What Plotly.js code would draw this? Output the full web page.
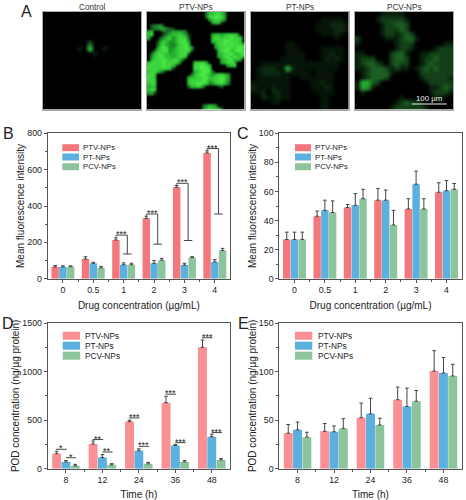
<!DOCTYPE html>
<html><head><meta charset="utf-8">
<script src="https://cdn.plot.ly/plotly-3.0.1.min.js"></script>
<style>html,body{margin:0;padding:0;background:#fff}#c{width:466px;height:500px}</style>
</head><body><div id="c"></div>
<script>
// ---------- data ----------
const seriesNames = ['PTV-NPs','PT-NPs','PCV-NPs'];
const concLabels = ['0','0.5','1','2','3','4'];
const timeLabels = ['8','12','24','36','48'];

const bPTV = [65,108,213,332,503,692], bPTVe = [7,13,12,12,10,12];
const bPT  = [65,85,77,85,75,92],      bPTe  = [6,5,10,15,10,13];
const bPCV = [66,60,77,102,117,155],   bPCVe = [5,8,8,10,4,12];
const bBracketGroups = [2,3,4,5];
const bBracketTop = [240,356,525,716];
const bBracketLow = [136,190,210,356];

const cPTV = [27,43,49,54,48,59.5],   cPTVe = [5,3.5,2,8,7,6.5];
const cPT  = [27,47,50.5,54,65,60.5], cPTe  = [5,7,8,7,9,7];
const cPCV = [27,45.5,55,37,48,61.5], cPCVe = [5,8,6.5,10,7,4];

const dPTV = [155,255,485,680,1250], dPTVe = [25,30,15,65,75];
const dPT  = [70,115,185,240,330],   dPTe  = [15,30,20,10,25];
const dPCV = [30,40,50,70,90],       dPCVe = [15,12,15,15,15];
const dLine1 = [200,300,523,767,1348];
const dLine2 = [113,172,230,268,372];
const dStars1 = ['*','**','***','***','***'];
const dStars2 = ['*','**','***','***','***'];

const ePTV = [36.5,38.5,52.5,71,100.5], ePTVe = [9,8,15,13,21];
const ePT  = [40,38,56.5,64,98.5],      ePTe  = [8,6,16,19,16];
const ePCV = [32.5,41.5,45,69.5,95.5],  ePCVe = [5,10,7,11,12];

const imgControl = ["","","","","","",
"00000000030000000000","00000001070010000000","00000000001000000000","","","","","","","","","","",""];
const imgPTV = [
"00000000000000000004778875",
"00000000000000000005889986",
"00000000000000000000678875",
"0000000000000000000006772",
"034552000",
"0244664320",
"6700133466654",
"78000246778752000000067767888600",
"60003578578883000000078878898870",
"00026875578986000000077889988870",
"00037865468897000000006889898887",
"00058985578898600000005788988998",
"00378895678889300000000789978998",
"03788876678893000000000678897789",
"05789877678870000000000678979786",
"06888987887400000000000067896850",
"78888988885000078886000067887000",
"88888988720000088998700000678000",
"88888888200000088999800000000000",
"78875300000000067899840000000000",
"88800000000000478998757887500000",
"88700000000006778899778898600000",
"88800000000007888898678898500000",
"78800000000007889988457887400000",
"67700000000003778740000130000000",
"7880000",
"562000",
"","","",
"000000000000000000357650",
"0000000000000000005787763"];
const imgPT = ["","00000000000000111110","00000000000001112221","00000000000001111221","00000000000000111210","00000000000000000100",
"00000001100000000000","00000001110000111110","00000001111000112110","00000011111000121210","00111111111111111100","01222119211111111100","01222211111101111000",
"01111111001111111000","11111111000011211000","21112111000011121000","11202211000001111000","00211211000000110000","00001100000000110000","00000000000000110000"];
const imgPCV = ["00000111110000000000","00001222221000000000","00000122332000000000","00000122232000000000","00000122123200000000","20000011123310000000",
"10000000122200000011","00000000122100001222","11000002331001122222","12220002332001223222","12332102322001232222","11233321211012323222","01233331000002222222",
"01233320000001222221","16632000000000122222","16510000000000011232","01000000000000012221","00000000010000001100","00000000123221000000","00000001222222100000"];
const imgTitles = ['Control','PTV-NPs','PT-NPs','PCV-NPs'];

// ---------- styling ----------
const FONT = '"Liberation Sans", Arial, sans-serif';
const W = 466, H = 500;
const fx = x => x / W, fy = y => 1 - y / H;
const BLUE = '#5CB0DE', GREEN = '#8CC59B', RED1 = '#F4777B', RED2 = '#FA9094';
const AXC = '#555', TXT = '#222';

const traces = [], annotations = [], shapes = [];
const layout = {width:W, height:H, margin:{l:0,r:0,t:0,b:0}, paper_bgcolor:'#fff', plot_bgcolor:'#fff',
  showlegend:false, barmode:'group', bargap:0.235, bargroupgap:0.04, font:{family:FONT,size:8.8,color:TXT}};

function text(x,y,t,size,opts){
  annotations.push(Object.assign({xref:'paper',yref:'paper',x:fx(x),y:fy(y),text:t,showarrow:false,
    font:{family:FONT,size:size,color:TXT},xanchor:'center',yanchor:'middle'},opts||{}));
}

// ---------- panel A ----------
const imgs = [imgControl,imgPTV,imgPT,imgPCV];
const imgGrid = [20,32,20,20];
const imgZmax = [9,9,14,9];
const imgX = [[43,141],[146.7,244.5],[250.7,348.7],[355,453]];
imgs.forEach((m,i)=>{
  const n = 5+i, g = imgGrid[i];
  traces.push({type:'heatmap',z:m.map(r=>r.padEnd(g,'0').split('').map(Number)),xaxis:'x'+n,yaxis:'y'+n,zmin:0,zmax:imgZmax[i],zsmooth:'best',
    colorscale:[[0,'#000'],[0.11,'rgb(9,32,12)'],[0.33,'rgb(28,95,35)'],[0.66,'rgb(35,170,45)'],[1,'rgb(75,235,70)']],showscale:false,hoverinfo:'skip'});
  layout['xaxis'+n]={domain:[fx(imgX[i][0]),fx(imgX[i][1])],anchor:'y'+n,range:[-0.5,g-0.5],showticklabels:false,ticks:'',showgrid:false,zeroline:false,showline:true,mirror:true,linecolor:'#aaa',linewidth:1};
  layout['yaxis'+n]={domain:[fy(109.5),fy(11.7)],anchor:'x'+n,range:[g-0.5,-0.5],showticklabels:false,ticks:'',showgrid:false,zeroline:false,showline:true,mirror:true,linecolor:'#aaa',linewidth:1};
  text((imgX[i][0]+imgX[i][1])/2,7.5,imgTitles[i],8.2,{font:{family:FONT,size:8.2,color:'#333'}});
});
shapes.push({type:'line',xref:'paper',yref:'paper',x0:fx(411.7),x1:fx(446.7),y0:fy(104),y1:fy(104),line:{color:'#eee',width:1}});
text(429,98.5,'100 µm',7.8,{font:{family:FONT,size:7.8,color:'#eee'}});
text(26.5,11,'A',16); text(8,133.5,'B',16); text(243.5,133.5,'C',16); text(8,323,'D',16); text(243,323,'E',16);

// ---------- bar panels ----------
function panel(n,sets,labels,red,xPx,yPx,ymax,dtick,minorD,ytitle,xtitle,legX,legTx,legY,legH,legF,standX){
  const xv = labels.map((_,i)=>i);
  const cols = [red,BLUE,GREEN];
  sets.forEach((s,i)=>{
    traces.push({type:'bar',name:seriesNames[i],x:xv,y:s[0],xaxis:'x'+n,yaxis:'y'+n,marker:{color:cols[i],line:{width:0}},
      error_y:{type:'data',symmetric:false,array:s[1],arrayminus:s[1].map(()=>0),color:'#444',thickness:1,width:1.8}});
    const y = legY[i];
    shapes.push({type:'rect',xref:'paper',yref:'paper',x0:fx(legX[0]),x1:fx(legX[1]),y0:fy(y-legH/2),y1:fy(y+legH/2),fillcolor:cols[i],line:{width:0}});
    text(legTx,y,seriesNames[i],legF,{xanchor:'left'});
  });
  layout['xaxis'+n]={domain:[fx(xPx[0]),fx(xPx[1])],anchor:'y'+n,range:[-0.5,labels.length-0.5],tickmode:'array',tickvals:xv,ticktext:labels,
    ticks:'outside',ticklen:3,tickwidth:1,tickcolor:AXC,showgrid:false,zeroline:false,showline:true,mirror:true,linecolor:AXC,linewidth:1,
    minor:{tickmode:'array',tickvals:xv.slice(1).map(v=>v-0.5),ticks:'outside',ticklen:2,tickcolor:AXC,showgrid:false},
    tickfont:{family:FONT,size:8.8,color:TXT},title:{text:xtitle,font:{family:FONT,size:10,color:TXT},standoff:standX}};
  layout['yaxis'+n]={domain:[fy(yPx[1]),fy(yPx[0])],anchor:'x'+n,range:[0,ymax],dtick:dtick,tick0:0,
    ticks:'outside',ticklen:3,tickwidth:1,tickcolor:AXC,showgrid:false,zeroline:false,showline:true,mirror:true,linecolor:AXC,linewidth:1,
    minor:{dtick:minorD,tick0:0,ticks:'outside',ticklen:2,tickcolor:AXC,showgrid:false},
    tickfont:{family:FONT,size:8.8,color:TXT},title:{text:ytitle,font:{family:FONT,size:10,color:TXT},standoff:0}};
}
const legYTop=[147.7,157,166.7], legYBot=[335.7,345.7,355.7];
const concT='Drug concentration (µg/mL)', mfi='Mean fluorescence intensity', pod='POD concentration (ng/µg protein)';
panel(1,[[bPTV,bPTVe],[bPT,bPTe],[bPCV,bPCVe]],concLabels,RED1,[47.7,230],[133.3,278.7],800,200,100,mfi,concT,[62.3,79],81,legYTop,7,7.8,7);
panel(2,[[cPTV,cPTVe],[cPT,cPTe],[cPCV,cPCVe]],concLabels,RED1,[279.3,461.7],[133.3,278.7],100,20,10,mfi,concT,[295,311],313.3,legYTop,7,7.8,7);
panel(3,[[dPTV,dPTVe],[dPT,dPTe],[dPCV,dPCVe]],timeLabels,RED2,[47.7,230],[323,468.7],1500,500,250,pod,'Time (h)',[62.7,80],83,legYBot,8,8.3,7);
panel(4,[[ePTV,ePTVe],[ePT,ePTe],[ePCV,ePCVe]],timeLabels,RED2,[279.3,461.7],[323,468.7],150,50,25,pod,'Time (h)',[295,312.3],315.7,legYBot,8,8.3,7);

// ---------- significance marks ----------
function br(n,xs,ys){traces.push({type:'scatter',mode:'lines',x:xs,y:ys,xaxis:'x'+n,yaxis:'y'+n,line:{color:'#444',width:1},hoverinfo:'skip',cliponaxis:false});}
function stars(n,x,y,t){annotations.push({xref:'x'+n,yref:'y'+n,x:x,y:y,text:t,showarrow:false,yanchor:'middle',yshift:1,font:{family:FONT,size:9,color:'#222'}});}
bBracketGroups.forEach((g,i)=>{
  const t=bBracketTop[i], l=bBracketLow[i];
  br(1,[g-0.25,g-0.25,g+0.12,g+0.12],[t-8,t,t,l]);
  br(1,[g-0.02,g+0.26],[l,l]);
  stars(1,g-0.06,t,'***');
});
dLine1.forEach((v,g)=>{
  br(3,[g-0.27,g+0.02],[v,v]); stars(3,g-0.13,v,dStars1[g]);
  const w=dLine2[g];
  br(3,[g+0.0,g+0.28],[w,w]); stars(3,g+0.14,w,dStars2[g]);
});

layout.annotations=annotations; layout.shapes=shapes;
Plotly.newPlot('c',traces,layout,{staticPlot:true,displayModeBar:false});
</script></body></html>
